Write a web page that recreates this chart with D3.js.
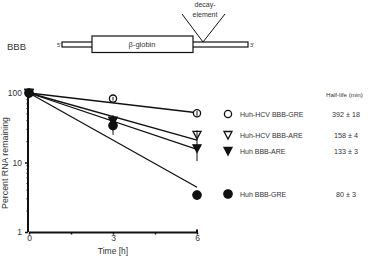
<!DOCTYPE html>
<html>
<head>
<meta charset="utf-8">
<script src="https://cdn.jsdelivr.net/npm/d3@7"></script>
<style>
body { margin: 0; background: #fff; }
text { font-family: "Liberation Sans", Arial, sans-serif; fill: #333; }
</style>
</head>
<body>
<svg id="chart" width="369" height="256"></svg>
<script>
// data
var times = [0, 3, 6];
var names = ["Huh-HCV BBB-GRE", "Huh-HCV BBB-ARE", "Huh BBB-ARE", "Huh BBB-GRE"];
var symbols = ["circleOpen", "triOpen", "triFilled", "circleFilled"];
var halfLives = ["392 \u00b1 18", "158 \u00b1 4", "133 \u00b1 3", "80 \u00b1 3"];
var hcvGre = [100, 83, 51];
var hcvAre = [100, 39, 25];
var huhAre = [100, 40, 16];
var huhGre = [100, 34, 3.4];
var errs = [[0, 5, 4], [0, 6, 4], [0, 8, 5.5], [0, 9, 0.3]];
var fitEnd = [52, 21, 15.5, 4.4];
var legendY = [114, 135, 151, 194];
var yTicks = [1, 10, 100];
var xTicks = [0, 3, 6];

var svg = d3.select("#chart");
var x = d3.scaleLinear().domain([0, 6]).range([29, 197]);
var y = d3.scaleLog().domain([1, 100]).range([232, 93]);
var series = [hcvGre, hcvAre, huhAre, huhGre];

// construct diagram
var diag = svg.append("g");
diag.append("text").attr("x", 7).attr("y", 49.5).attr("font-size", 9.5).text("BBB");
diag.append("rect").attr("x", 62).attr("y", 42).attr("width", 186).attr("height", 5)
    .attr("fill", "#fff").attr("stroke", "#111").attr("stroke-width", 1.2);
diag.append("rect").attr("x", 92).attr("y", 36).attr("width", 101).attr("height", 16.5)
    .attr("fill", "#fff").attr("stroke", "#111").attr("stroke-width", 1.2);
diag.append("text").attr("x", 142).attr("y", 47).attr("font-size", 7.5)
    .attr("text-anchor", "middle").text("\u03b2-globin");
diag.append("text").attr("x", 61).attr("y", 46.5).attr("font-size", 5.5)
    .attr("text-anchor", "end").text("5'");
diag.append("text").attr("x", 250).attr("y", 46.5).attr("font-size", 5.5).text("3'");
diag.append("path").attr("d", "M182,14L203,42L225,14")
    .attr("fill", "none").attr("stroke", "#111").attr("stroke-width", 1);
diag.append("text").attr("x", 205).attr("y", 7).attr("font-size", 7)
    .attr("text-anchor", "middle").text("decay-");
diag.append("text").attr("x", 205).attr("y", 17).attr("font-size", 7)
    .attr("text-anchor", "middle").text("element");

// axes
var yAxis = d3.axisLeft(y).tickValues(yTicks).tickFormat(d3.format("d")).tickSize(3);
var gy = svg.append("g").attr("transform", "translate(28,0)").call(yAxis);
var minor = [];
[1, 10].forEach(function(b) { for (var k = 2; k < 10; k++) minor.push(b * k); });
gy.selectAll(".minor").data(minor).enter().append("line").attr("class", "minor")
    .attr("x1", -1.5).attr("x2", 0).attr("y1", d => y(d)).attr("y2", d => y(d))
    .attr("stroke", "#111");
var xAxis = d3.axisBottom(x).tickValues([0, 1.5, 3, 4.5, 6])
    .tickFormat(d => xTicks.indexOf(d) >= 0 ? d : "").tickSize(2);
var gx = svg.append("g").attr("transform", "translate(0,232.5)").call(xAxis);
[gx, gy].forEach(function(g) {
    g.select(".domain").attr("stroke", "#111").attr("stroke-width", 2);
    g.selectAll(".tick line").attr("stroke", "#111").attr("stroke-width", 1.5);
    g.selectAll(".tick text").attr("font-size", 8.5).attr("fill", "#333")
        .attr("font-family", "Liberation Sans, Arial, sans-serif");
});
gy.select(".domain").attr("d", "M0," + y(100) + "V" + y(1));
gx.select(".domain").attr("d", "M" + x(0) + ",0H" + x(6) + "V-3");
gx.selectAll(".tick text").attr("dy", "0.45em");

svg.append("text").attr("x", x(3)).attr("y", 254).attr("font-size", 8.5)
    .attr("text-anchor", "middle").text("Time [h]");
svg.append("text").attr("transform", "translate(8,163) rotate(-90)")
    .attr("font-size", 8.8).attr("text-anchor", "middle").text("Percent RNA remaining");

// fit lines
svg.selectAll(".fit").data(fitEnd).enter().append("line").attr("class", "fit")
    .attr("x1", x(0)).attr("y1", y(100)).attr("x2", x(6)).attr("y2", d => y(d))
    .attr("stroke", "#111").attr("stroke-width", 1.3);

function drawSymbol(g, kind, cx, cy) {
    var open = kind.indexOf("Open") >= 0;
    var fill = open ? "#fff" : "#111";
    if (kind.indexOf("circle") === 0) {
        g.append("circle").attr("cx", cx).attr("cy", cy).attr("r", open ? 3.6 : 4.2)
            .attr("fill", fill).attr("stroke", "#111").attr("stroke-width", 1.3);
    } else {
        g.append("path").attr("d", "M" + (cx - 4) + "," + (cy - 3.5) + "H" + (cx + 4) + "L" + cx + "," + (cy + 4) + "Z")
            .attr("fill", fill).attr("stroke", "#111").attr("stroke-width", 1.3);
    }
}

// points, then error bars on top
var pts = svg.append("g");
[0, 1, 2, 3].forEach(function(s) {
    series[s].forEach(function(v, i) {
        drawSymbol(pts, symbols[s], x(times[i]), y(v));
    });
});
series.forEach(function(vals, s) {
    vals.forEach(function(v, i) {
        var e = errs[s][i];
        if (e > 0) {
            pts.append("line").attr("x1", x(times[i])).attr("x2", x(times[i]))
                .attr("y1", y(v + e)).attr("y2", y(v - e))
                .attr("stroke", "#111").attr("stroke-width", 1);
        }
    });
});

// legend
var leg = svg.append("g");
names.forEach(function(n, i) {
    drawSymbol(leg, symbols[i], 228, legendY[i]);
    leg.append("text").attr("x", 240).attr("y", legendY[i] + 2.5).attr("font-size", 7).text(n);
    leg.append("text").attr("x", 346).attr("y", legendY[i] + 2.5).attr("font-size", 7.2)
        .attr("text-anchor", "middle").text(halfLives[i]);
});
leg.append("text").attr("x", 326).attr("y", 97).attr("font-size", 6.2).text("Half-life (min)");
</script>
</body>
</html>
